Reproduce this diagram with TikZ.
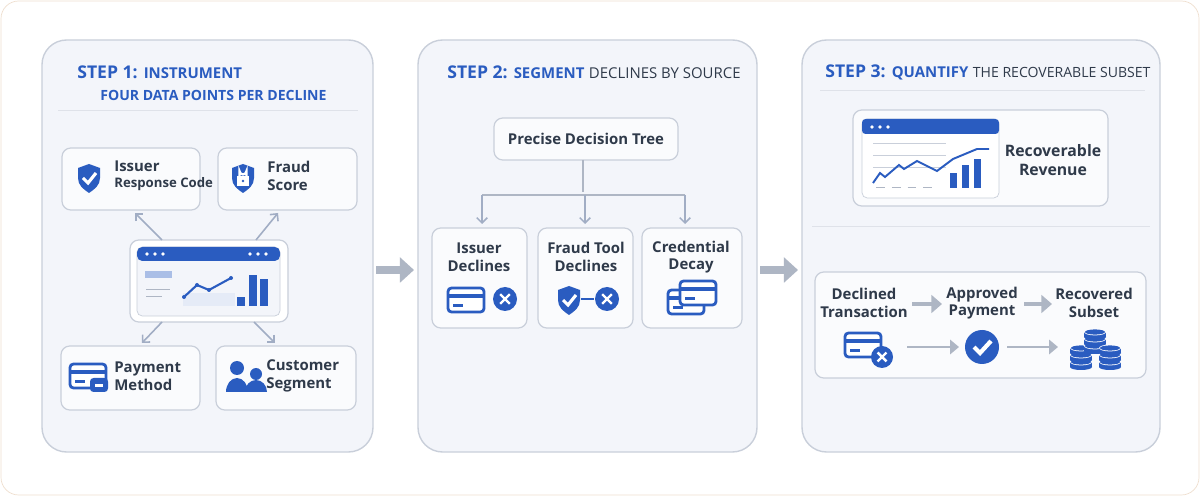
\documentclass[tikz,border=0pt]{standalone}
\usepackage{fontspec}
\setmainfont{Open Sans}
\usetikzlibrary{arrows.meta,positioning,calc}
\definecolor{brand}{HTML}{2A5CC0}
\definecolor{ink}{HTML}{2F3A4A}
\definecolor{edge}{HTML}{C9CFDA}
\definecolor{pale}{HTML}{F3F5FA}
\definecolor{steel}{HTML}{AEB6C4}
\tikzset{
  panel/.style={draw=edge, fill=pale, rounded corners=14pt, line width=0.8pt},
  card/.style={draw=edge, fill=white!60!pale, rounded corners=5pt, line width=0.7pt},
  ttl/.style={text=brand, font=\bfseries\fontsize{10}{12}\selectfont, anchor=west, inner sep=0pt},
  sub/.style={font=\fontsize{8}{10}\selectfont},
  lbl/.style={text=ink, font=\fontsize{8.5}{10}\selectfont, align=center, inner sep=0pt},
  llbl/.style={lbl, align=left, anchor=west},
  conn/.style={draw=steel!90!brand, line width=0.9pt, -{Straight Barb[length=3pt]}},
  flow/.style={draw=steel, line width=1.6pt, -{Triangle[length=5pt,width=8pt]}},
  big/.style={draw=steel, line width=4pt, -{Triangle[length=8pt,width=14pt]}},
}
\newcommand{\sm}{\fontsize{8.5}{10}\selectfont}
% icons, drawn in pixel units around (#1)
\newcommand{\shieldicon}[1]{\begin{scope}[shift={(#1)}]
  \fill[brand] (-11,-10) -- (0,-14) -- (11,-10) -- (11,0) .. controls (11,7) and (6,11) .. (0,15) .. controls (-6,11) and (-11,7) .. (-11,0) -- cycle;
\end{scope}}
\newcommand{\cardicon}[1]{\begin{scope}[shift={(#1)}]
  \draw[brand, line width=1.6pt, rounded corners=2pt, fill=white] (-18,-12) rectangle (18,12);
  \fill[brand] (-18,-6) rectangle (18,-2);
  \fill[brand] (-13,4) rectangle (-3,7);
\end{scope}}
\newcommand{\crossdisc}[2]{\fill[brand] (#1) circle (#2);
  \draw[white, line width=1.4pt] ($(#1)+(-0.4*#2,-0.4*#2)$) -- ($(#1)+(0.4*#2,0.4*#2)$) ($(#1)+(-0.4*#2,0.4*#2)$) -- ($(#1)+(0.4*#2,-0.4*#2)$);}
\begin{document}
\begin{tikzpicture}[x=0.02cm, y=-0.02cm]
  \useasboundingbox (0,0) rectangle (1200,496);
  \draw[draw=brown!25, fill=white, rounded corners=10pt] (1,1) rectangle (1199,495);

  % panels
  \draw[panel] (42,40) rectangle (373,452);
  \draw[panel] (418,40) rectangle (757,452);
  \draw[panel] (802,40) rectangle (1160,452);
  \coordinate (g1a) at (376,270); \coordinate (g1b) at (414,270);
  \coordinate (g2a) at (760,270); \coordinate (g2b) at (798,270);
  \draw[big] (g1a) -- (g1b);
  \draw[big] (g2a) -- (g2b);

  % ---- step 1
  \node[ttl] (t1) at (77,72) {STEP 1: {\sm INSTRUMENT}};
  \node[ttl, sub] (t1s) at (100,95) {\bfseries FOUR DATA POINTS PER DECLINE};
  \draw[edge!60] (58,110) -- (358,110);

  \draw[card] (62,148) rectangle (200,210);
  \draw[card] (218,148) rectangle (357,210);
  \draw[card] (61,346) rectangle (200,410);
  \draw[card] (216,346) rectangle (356,410);
  \node[llbl] (issuer) at (114,176) {\bfseries Issuer\\[-1pt]{\fontsize{7.5}{9}\selectfont\bfseries Response Code}};
  \node[llbl] (fraud) at (267,176) {\bfseries Fraud\\\bfseries Score};
  \node[llbl] (paym) at (114,376) {\bfseries Payment\\\bfseries Method};
  \node[llbl] (cust) at (266,376) {\bfseries Customer\\\bfseries Segment};
  \shieldicon{89,178}
  \draw[white, line width=1.8pt] (83,178) -- (88,183) -- (96,173);
  \shieldicon{243,178}
  \fill[white] (237,176) rectangle (249,186);
  \draw[white, line width=1.3pt] (239.5,176) -- (239.5,171) arc (180:0:3.5) -- (246.5,176);
  \fill[brand] (243,181) circle (1.3);
  \cardicon{88,376}
  \fill[brand, rounded corners=2pt] (90,378) rectangle (108,392);
  \fill[white] (95,384) rectangle (103,387);
  \fill[brand] (237,368) circle (7) (256,374) circle (6);
  \fill[brand] (226,392) arc (180:360:11 and 14) -- cycle;
  \fill[brand] (245,392) arc (180:360:11 and 12) -- cycle;

  % dashboard
  \draw[card, fill=white] (130,240) rectangle (288,322);
  \draw[edge, fill=pale, rounded corners=3pt] (137,247) rectangle (280,316);
  \fill[brand, rounded corners=3pt] (137,247) rectangle (280,261);
  \foreach \d in {147,155,163,250,258,266} \fill[white] (\d,254) circle (1.8);
  \fill[brand!40] (145,271) rectangle (172,278);
  \draw[steel] (146,289) -- (170,289) (146,296) -- (162,296);
  \fill[brand!12] (183,293) rectangle (235,306);
  \foreach \bx/\bh in {237/297,249/275,260/279} \fill[brand] (\bx,\bh) rectangle (\bx+8,306);
  \draw[brand, line width=1.2pt] (184,297) -- (197,285) -- (209,290) -- (231,278);
  \foreach \p in {(184,297),(197,285),(209,290),(231,278)} \fill[brand] \p circle (2);
  \coordinate (c1) at (162,240); \coordinate (c2) at (256,240);
  \coordinate (c3) at (162,322); \coordinate (c4) at (254,322);
  \coordinate (e1) at (135,213); \coordinate (e2) at (278,213);
  \coordinate (e3) at (142,343); \coordinate (e4) at (275,343);
  \draw[conn] (c1) -- (e1);
  \draw[conn] (c2) -- (e2);
  \draw[conn] (c3) -- (e3);
  \draw[conn] (c4) -- (e4);

  % ---- step 2
  \node[ttl] (t2) at (447,72) {STEP 2: {\sm SEGMENT} {\sm\color{ink}\mdseries DECLINES BY SOURCE}};
  \draw[card] (494,118) rectangle (678,160);
  \node[lbl] (tree) at (586,139) {\bfseries Precise Decision Tree};
  \draw[card] (432,228) rectangle (527,328);
  \draw[card] (538,228) rectangle (633,328);
  \draw[card] (642,228) rectangle (742,328);
  \node[lbl] (s1) at (479,257) {\bfseries Issuer\\\bfseries Declines};
  \node[lbl] (s2) at (586,257) {\bfseries Fraud Tool\\\bfseries Declines};
  \node[lbl] (s3) at (691,257) {\bfseries Credential\\\bfseries Decay};
  \coordinate (tb) at (583,160); \coordinate (tj) at (583,192);
  \coordinate (b1) at (482,224); \coordinate (b2) at (585,224); \coordinate (b3) at (685,224);
  \draw[steel, line width=1pt] (tb) -- (tj);
  \draw[steel, line width=1pt] (482,195) -- (685,195);
  \draw[conn] (482,195) -- (b1);
  \draw[conn] (585,195) -- (b2);
  \draw[conn] (685,195) -- (b3);
  \cardicon{466,300}
  \crossdisc{505,299}{12}
  \shieldicon{569,300}
  \draw[white, line width=1.8pt] (563,300) -- (568,305) -- (576,295);
  \draw[brand, line width=1pt] (581,299) -- (594,299);
  \crossdisc{607,299}{12}
  \cardicon{686,302}
  \begin{scope}[shift={(12,-9)}]\cardicon{686,302}\end{scope}

  % ---- step 3
  \node[ttl] (t3) at (825,72) {STEP 3: {\sm QUANTIFY}\ {\fontsize{8}{10}\selectfont\color{ink}\mdseries THE RECOVERABLE SUBSET}};
  \draw[edge!60] (820,90) -- (1145,90);
  \draw[card] (853,110) rectangle (1108,206);
  \draw[fill=white, draw=edge, rounded corners=3pt] (862,119) rectangle (999,198);
  \fill[brand, rounded corners=2pt] (862,119) rectangle (999,134);
  \foreach \d in {872,880,888} \fill[white] (\d,127) circle (1.8);
  \draw[edge] (873,143) -- (946,143) (873,155) -- (946,155) (873,167) -- (946,167);
  \draw[steel, dash pattern=on 5pt off 4pt] (876,187) -- (934,187);
  \foreach \bx/\bh in {950/173,962/165,974/159} \fill[brand] (\bx,\bh) rectangle (\bx+7,188);
  \draw[brand, line width=1.1pt] (873,183) -- (880,173) -- (885,177) -- (899,165) -- (904,169) -- (917,161) -- (937,171) -- (953,159) -- (977,149) -- (989,149);
  \node[lbl, font=\fontsize{9}{11}\selectfont] (rev) at (1053,160) {\bfseries Recoverable\\\bfseries Revenue};
  \draw[edge!60] (812,226) -- (1150,226);

  \draw[card] (815,272) rectangle (1146,378);
  \node[lbl] (dec) at (864,303) {\bfseries Declined\\\bfseries Transaction};
  \node[lbl] (app) at (982,303) {\bfseries Approved\\\bfseries Payment};
  \node[lbl] (rec) at (1094,303) {\bfseries Recovered\\\bfseries Subset};
  \coordinate (a1) at (912,304); \coordinate (a2) at (942,304);
  \coordinate (a3) at (1024,304); \coordinate (a4) at (1052,304);
  \draw[big, line width=2.5pt, -{Triangle[length=6pt,width=10pt]}] (a1) -- (a2);
  \draw[big, line width=2.5pt, -{Triangle[length=6pt,width=10pt]}] (a3) -- (a4);
  \cardicon{863,345}
  \crossdisc{882,357}{11}
  \fill[brand] (982,347) circle (17);
  \draw[white, line width=2.4pt] (974,347) -- (980,353) -- (991,341);
  \coordinate (f1) at (907,347); \coordinate (f2) at (959,347);
  \coordinate (f3) at (1007,347); \coordinate (f4) at (1058,347);
  \draw[flow] (f1) -- (f2);
  \draw[flow] (f3) -- (f4);
  \foreach \cx/\cy in {1081/358,1095/342,1110/358} {
    \foreach \k in {0,1,2} {
      \fill[brand] (\cx-11,\cy+4-\k*7) rectangle (\cx+11,\cy+9-\k*7);
      \fill[brand] (\cx,\cy+9-\k*7) ellipse (11 and 3);
      \fill[white] (\cx,\cy+4-\k*7) ellipse (11 and 3.4);
      \fill[brand] (\cx,\cy+4-\k*7) ellipse (10 and 2.6);
    }
  }
\end{tikzpicture}
\end{document}
